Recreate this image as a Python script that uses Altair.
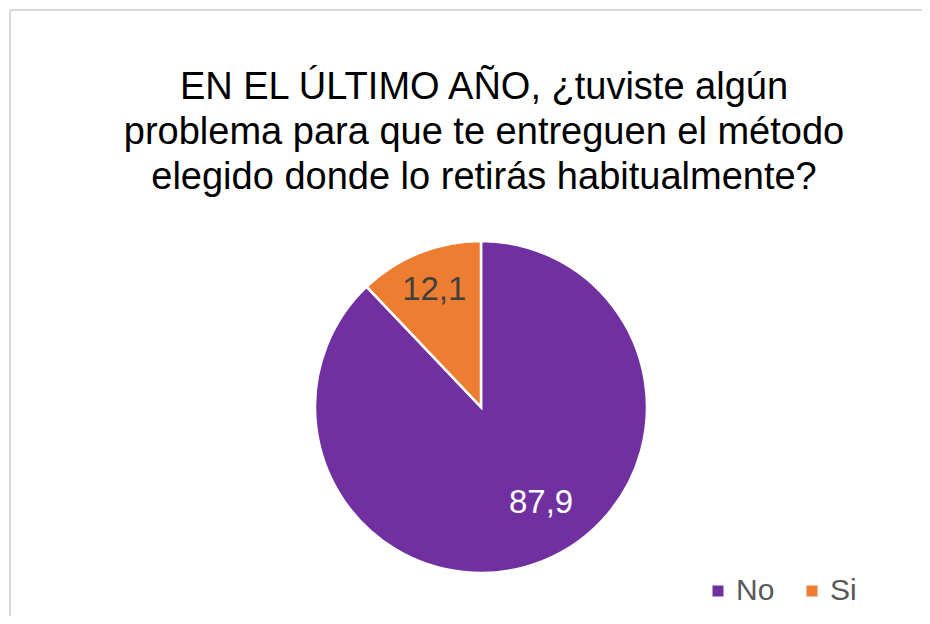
import altair as alt
import pandas as pd

categories = ["No", "Si"]
values = [87.9, 12.1]
colors = ["#7030A0", "#ED7D31"]
title_lines = ["EN EL ÚLTIMO AÑO, ¿tuviste algún",
               "problema para que te entreguen el método",
               "elegido donde lo retirás habitualmente?"]

df = pd.DataFrame({
    "cat": categories,
    "val": values,
    "idx": list(range(len(categories))),
    "lab": [f"{v:.1f}".replace(".", ",") for v in values],
})

W, H = 912, 606
CX, CY = 471, 397
FONT = "Liberation Sans"

pie = alt.Chart(df).mark_arc(radius=166, stroke="white", strokeWidth=2.5).encode(
    theta=alt.Theta("val:Q", stack=True),
    order=alt.Order("idx:Q"),
    color=alt.Color(
        "cat:N",
        scale=alt.Scale(domain=categories, range=colors),
        legend=alt.Legend(
            title=None, orient="none", direction="horizontal",
            legendX=693, legendY=566, symbolType="square", symbolSize=121,
            symbolStrokeWidth=0, labelFontSize=30, labelFont=FONT,
            labelColor="#595959", labelOffset=3, columnPadding=22, padding=0,
        ),
    ),
    x=alt.value(CX), y=alt.value(CY),
)


def label_layer(cat, radius, color, dx=0, dy=0):
    return alt.Chart(df).transform_stack(
        stack="val", groupby=[], as_=["v0", "v1"], sort=[alt.SortField("idx")]
    ).transform_calculate(
        mid="(datum.v0 + datum.v1) / 2"
    ).transform_filter(alt.datum.cat == cat).mark_text(
        radius=radius, dx=dx, dy=dy, fontSize=33, font=FONT,
        color=color, align="center", baseline="middle"
    ).encode(
        theta=alt.Theta("mid:Q", scale=alt.Scale(domain=[0, 100]), stack=False),
        text="lab:N", x=alt.value(CX), y=alt.value(CY),
    )


lab_no = label_layer("No", 108, "white", dx=20, dy=-4)
lab_si = label_layer("Si", 126, "#404040")

one = pd.DataFrame({"t": [0]})

title = alt.Chart(one).mark_text(
    text=title_lines, fontSize=38, font=FONT, color="#000000",
    align="center", baseline="alphabetic", lineHeight=45,
).encode(x=alt.value(474), y=alt.value(89))

left_border = alt.Chart(one).mark_rule(color="#D9D9D9", strokeWidth=2).encode(
    x=alt.value(0), y=alt.value(0), y2=alt.value(H + 20))

top_border = alt.Chart(one).mark_rule(color="#D9D9D9", strokeWidth=2).encode(
    x=alt.value(0), x2=alt.value(W + 20), y=alt.value(0))

chart = alt.layer(pie, lab_no, lab_si, title, left_border, top_border).resolve_scale(
    theta="independent"
).properties(
    width=W, height=H, autosize="none",
    padding={"left": 2, "top": 2, "right": 0, "bottom": 0},
).configure_view(stroke=None).configure(background="white")

chart.save("out.html", embed_options={"renderer": "svg", "actions": False})
